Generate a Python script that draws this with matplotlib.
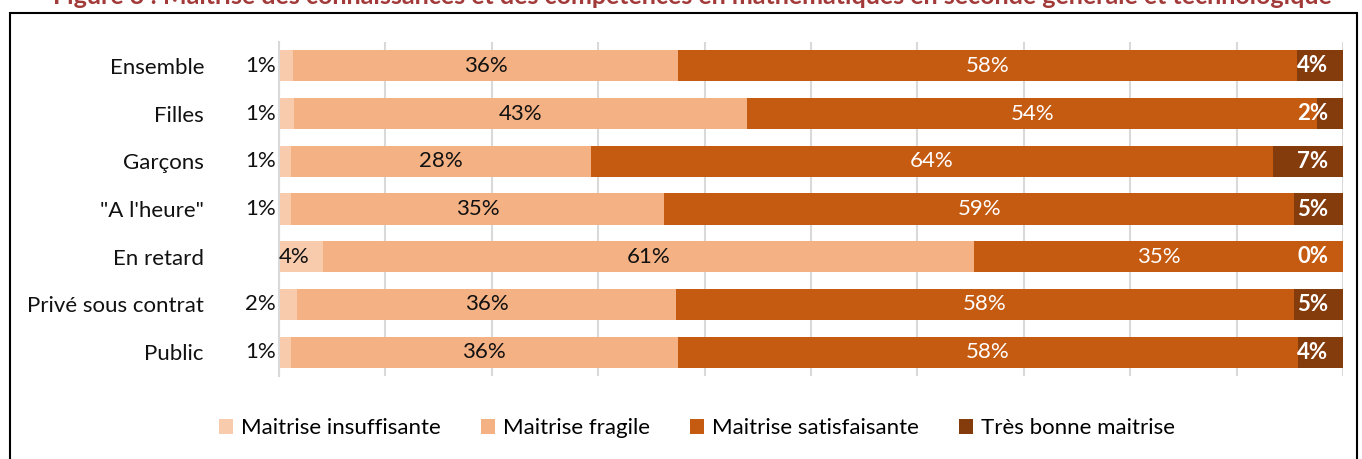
import matplotlib
matplotlib.use("Agg")
import matplotlib.pyplot as plt
from matplotlib.patches import Rectangle, Patch

plt.rcParams['font.family'] = ['Lato', 'DejaVu Sans']

categories = ["Ensemble", "Filles", "Garçons", "\"A l'heure\"", "En retard", "Privé sous contrat", "Public"]
series_names = ["Maitrise insuffisante", "Maitrise fragile", "Maitrise satisfaisante", "Très bonne maitrise"]
insuffisante = [1.3, 1.4, 1.1, 1.1, 4.1, 1.7, 1.1]
fragile = [36.2, 42.6, 28.2, 35.1, 61.2, 35.6, 36.4]
satisfaisante = [58.2, 53.6, 64.1, 59.2, 34.7, 58.1, 58.3]
tres_bonne = [4.3, 2.4, 6.6, 4.6, 0.0, 4.6, 4.2]
colors = ["#F8CBAD", "#F4B183", "#C55A11", "#843C0C"]
title = "Figure 3 : Maîtrise des connaissances et des compétences en mathématiques en seconde générale et technologique"

W, H = 1362, 459
fig = plt.figure(figsize=(W / 100, H / 100), dpi=100)
ax = fig.add_axes([279 / W, 1 - 376 / H, (1343 - 279) / W, (376 - 42) / H])

series = [insuffisante, fragile, satisfaisante, tres_bonne]
y = list(range(len(categories)))
left = [0.0] * len(categories)
for vals, col, name in zip(series, colors, series_names):
    ax.barh(y, vals, left=left, height=0.65, color=col, label=name, zorder=2)
    left = [l + v for l, v in zip(left, vals)]

fs = 16
# labels
for i in y:
    v0 = insuffisante[i]
    if v0 >= 3:
        ax.text(0.0, i, f"{int(v0 + 0.5)}%", ha='left', va='center', fontsize=fs, color='#111111', clip_on=False, zorder=3)
    else:
        ax.text(-0.3, i, f"{int(v0 + 0.5)}%", ha='right', va='center', fontsize=fs, color='#111111', clip_on=False, zorder=3)
    start = insuffisante[i]
    v1 = fragile[i]
    ax.text(start + v1 / 2, i, f"{int(v1 + 0.5)}%", ha='center', va='center', fontsize=fs, color='#111111', zorder=3)
    start += v1
    v2 = satisfaisante[i]
    ax.text(start + v2 / 2, i, f"{int(v2 + 0.5)}%", ha='center', va='center', fontsize=fs, color='white', zorder=3)
    v3 = tres_bonne[i]
    ax.text(98.6, i, f"{int(v3 + 0.5)}%", ha='right', va='center', fontsize=fs, color='white', fontweight='bold', zorder=3)

ax.set_xlim(0, 100)
ax.set_ylim(len(categories) - 0.5, -0.5)
ax.set_xticks(range(0, 101, 10))
ax.set_xticklabels([])
ax.tick_params(axis='x', length=0)
ax.set_yticks(y)
ax.set_yticklabels(categories, fontsize=fs, color='#111111')
ax.tick_params(axis='y', length=0, pad=54)
ax.grid(axis='x', color='#D9D9D9', linewidth=1.5, zorder=0)
ax.set_axisbelow(True)
for s in ['top', 'right', 'bottom']:
    ax.spines[s].set_visible(False)
ax.spines['left'].set_color('#D9D9D9')
ax.spines['left'].set_linewidth(1.5)

handles = [Patch(facecolor=c, edgecolor='none') for c in colors]
fig.legend(handles, series_names, loc='center', bbox_to_anchor=(697 / W, 1 - 428 / H), ncol=4,
           frameon=False, fontsize=fs, handlelength=0.65, handleheight=0.65, handletextpad=0.35,
           columnspacing=1.8)

# border frame
fig.patches.append(Rectangle((10 / W, -0.1), (1357 - 10) / W, (1 - 13 / H) + 0.1,
                             transform=fig.transFigure, fill=False, edgecolor='black', linewidth=1.5))
fig.text(692 / W, 1 - 4 / H, title, ha='center', va='baseline', fontsize=18, fontweight='bold', color='#A33A3A')

fig.savefig("out.png", dpi=100)
